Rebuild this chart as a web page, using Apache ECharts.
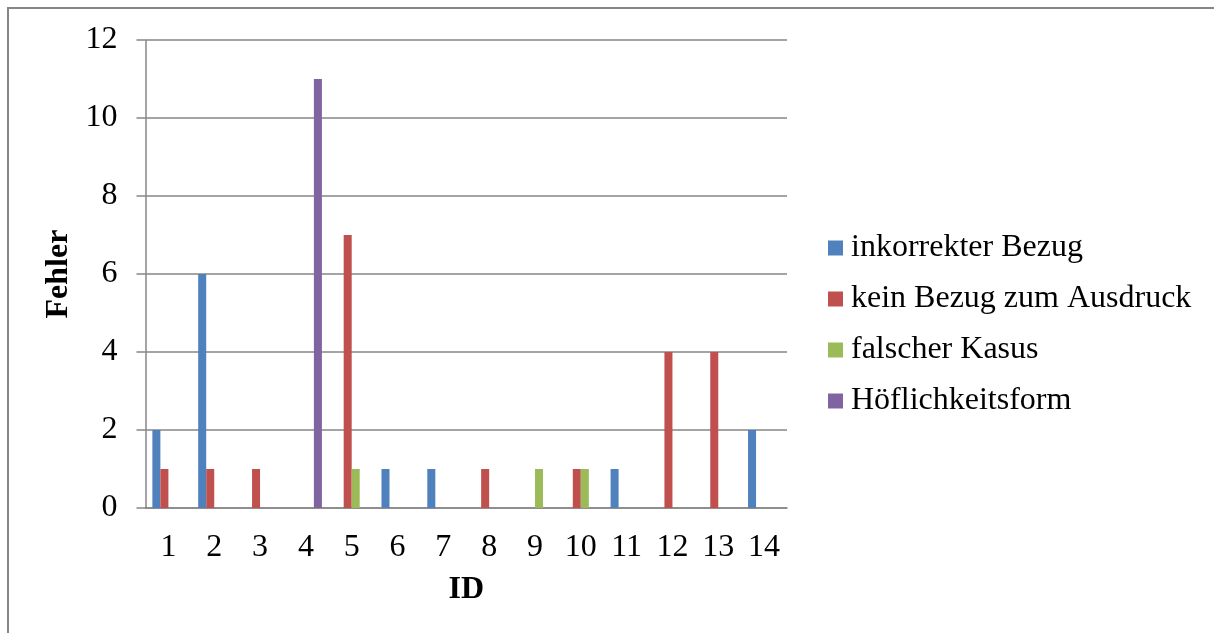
<!DOCTYPE html>
<html>
<head>
<meta charset="utf-8">
<script src="https://cdn.jsdelivr.net/npm/echarts@6/dist/echarts.min.js"></script>
<style>
html,body{margin:0;padding:0;background:#fff;}
#c{width:1214px;height:633px;}
</style>
</head>
<body>
<div id="c"></div>
<script>
var categories = ['1','2','3','4','5','6','7','8','9','10','11','12','13','14'];
var seriesNames = ['inkorrekter Bezug','kein Bezug zum Ausdruck','falscher Kasus','Höflichkeitsform'];
var inkorrekterBezug = [2,6,0,0,0,1,1,0,0,0,1,0,0,2];
var keinBezug        = [1,1,1,0,7,0,0,1,0,1,0,4,4,0];
var falscherKasus    = [0,0,0,0,1,0,0,0,1,1,0,0,0,0];
var hoeflichkeit     = [0,0,0,11,0,0,0,0,0,0,0,0,0,0];
var yTicks = [0,2,4,6,8,10,12];
var colors = ['#4F81BD','#C0504D','#9BBB59','#8064A2'];

var font = 'Liberation Serif';
var gray = '#868686';
var fs = 32;
var chart = echarts.init(document.getElementById('c'));
var seriesData = [inkorrekterBezug, keinBezug, falscherKasus, hoeflichkeit];
chart.setOption({
  animation: false,
  color: colors,
  textStyle: {fontFamily: font},
  graphic: [{
    type: 'rect', shape: {x: 8, y: 8, width: 1300, height: 700},
    style: {fill: 'none', stroke: gray, lineWidth: 2}, silent: true
  }],
  grid: {left: 145.5, right: 427, top: 40, bottom: 125},
  legend: {
    orient: 'vertical', left: 828, top: 232, padding: 0,
    itemWidth: 15, itemHeight: 15, itemGap: 19, icon: 'rect',
    data: seriesNames,
    textStyle: {fontFamily: font, fontSize: fs, color: '#000', padding: [0,0,0,3]}
  },
  xAxis: {
    type: 'category', data: categories,
    name: 'ID', nameLocation: 'middle', nameGap: 66,
    nameTextStyle: {fontFamily: font, fontSize: fs, fontWeight: 'bold', color: '#000'},
    axisLine: {lineStyle: {color: gray, width: 1.5}},
    axisTick: {show: false},
    axisLabel: {fontFamily: font, fontSize: fs, color: '#000', margin: 24, interval: 0}
  },
  yAxis: {
    type: 'value', min: yTicks[0], max: yTicks[yTicks.length-1], interval: 2,
    name: 'Fehler', nameLocation: 'middle', nameGap: 67, nameRotate: 90,
    nameTextStyle: {fontFamily: font, fontSize: fs, fontWeight: 'bold', color: '#000'},
    axisLine: {show: true, lineStyle: {color: gray, width: 1.5}},
    axisTick: {show: true, length: 9, lineStyle: {color: gray, width: 1.5}},
    splitLine: {lineStyle: {color: gray, width: 1.5}},
    axisLabel: {fontFamily: font, fontSize: fs, color: '#000', margin: 28}
  },
  series: seriesNames.map(function(n, i){
    return {
      name: n, type: 'bar', data: seriesData[i],
      barGap: '0%', barCategoryGap: '30%'
    };
  })
});
</script>
</body>
</html>
